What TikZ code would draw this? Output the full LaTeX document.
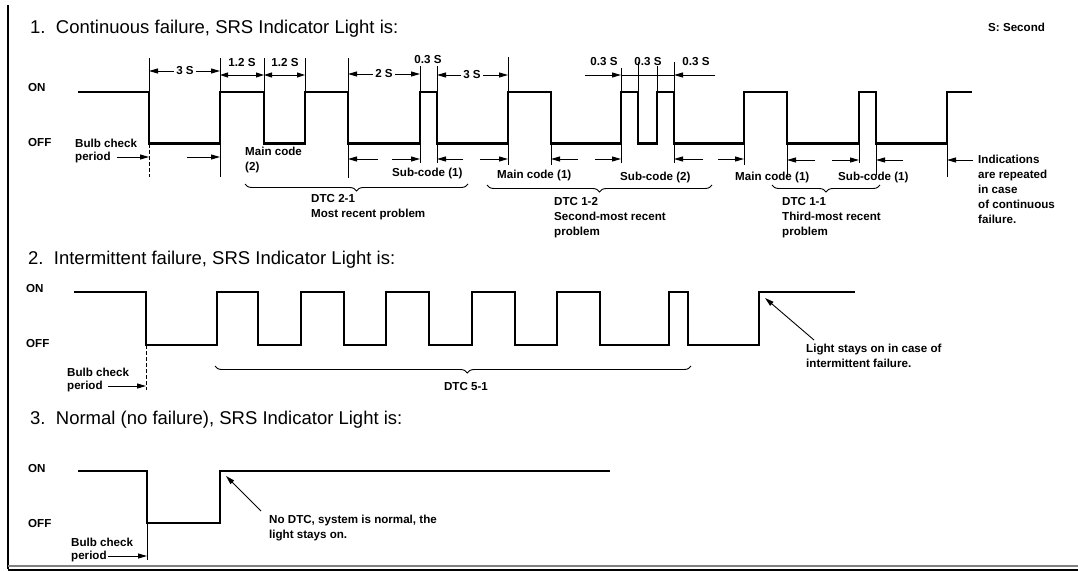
\documentclass[tikz,border=0pt]{standalone}
\usepackage{fontspec}
\setmainfont{Liberation Sans}
\usetikzlibrary{arrows.meta,decorations.pathreplacing}
\begin{document}
\begin{tikzpicture}[x=1pt,y=-1pt,
  wave/.style={line width=2.8pt, line join=miter},
  tk/.style={line width=0.9pt},
  dashtk/.style={line width=0.9pt, dash pattern=on 4pt off 2pt},
  dimar/.style={line width=0.9pt, {Triangle[length=8pt,width=5pt]}-{Triangle[length=8pt,width=5pt]}},
  arr/.style={line width=0.9pt, -{Triangle[length=9pt,width=5pt]}},
  ttl/.style={font=\fontsize{18.5}{22}\selectfont, anchor=west, inner sep=0pt},
  lbl/.style={font=\fontsize{11.6}{15}\selectfont\bfseries, anchor=west, inner sep=0pt, align=left},
  dl/.style={font=\fontsize{11.6}{15}\selectfont\bfseries, fill=white, inner sep=2pt},
  brc/.style={decorate, decoration={brace, mirror, amplitude=7pt}, line width=0.9pt},
]
\useasboundingbox (0,0) rectangle (1078,570);
% frame
\draw[line width=2.8pt] (8,5) -- (8,569);
\draw[line width=1.5pt, gray] (8,566) -- (1078,566);
\draw[line width=2pt] (8,569.5) -- (1078,569.5);

% ---------------- Section 1
\node[ttl] (t1) at (30,29) {1.\ \ Continuous failure, SRS Indicator Light is:};
\node[lbl] (sec) at (988,27) {S: Second};
\node[lbl] (on1) at (28,88) {ON};
\node[lbl] (off1) at (28,143) {OFF};
\draw[wave] (78,92) -- (149,92) -- (149,143.5) -- (220,143.5) -- (220,92) -- (264,92) -- (264,143.5)
  -- (305,143.5) -- (305,92) -- (348,92) -- (348,143.5) -- (420,143.5) -- (420,92) -- (437,92)
  -- (437,143.5) -- (508,143.5) -- (508,92) -- (551,92) -- (551,143.5) -- (621,143.5) -- (621,92)
  -- (638,92) -- (638,143.5) -- (657,143.5) -- (657,92) -- (674,92) -- (674,143.5) -- (744,143.5)
  -- (744,92) -- (787,92) -- (787,143.5) -- (859,143.5) -- (859,92) -- (876,92) -- (876,143.5)
  -- (947,143.5) -- (947,92) -- (972,92);
% ticks above
\foreach \x/\t in {149/58,220/58,264/58,305/58,348/58,420/66,437/66,508/57,621/68,638/62,657/66,674/62}
  \draw[tk] (\x,\t) -- (\x,92);
% ticks below
\draw[dashtk] (149,143.5) -- (149,177);
\foreach \x/\b in {220/177,348/178,420/163,437/163,508/165,551/165,621/163,674/163,744/165,787/177,859/163,876/175,947/177}
  \draw[tk] (\x,143.5) -- (\x,\b);
% dimensions
\node[dl] (d1) at (185,71) {3 S};
\draw[arr] (d1.west) -- (149,71); \draw[arr] (d1.east) -- (220,71);
\draw[dimar] (220,75) -- (264,75);
\draw[dimar] (264,75) -- (305,75);
\node[lbl, anchor=center] (d2a) at (242,63) {1.2 S};
\node[lbl, anchor=center] (d2b) at (285,63) {1.2 S};
\node[dl] (d3) at (384,74) {2 S};
\draw[arr] (d3.west) -- (348,74); \draw[arr] (d3.east) -- (420,74);
\node[lbl, anchor=center] (d4) at (428,60) {0.3 S};
\node[dl] (d5) at (472,75) {3 S};
\draw[arr] (d5.west) -- (437,75); \draw[arr] (d5.east) -- (508,75);
\node[lbl, anchor=center] (d6) at (604,62) {0.3 S};
\node[lbl, anchor=center] (d7) at (648,62) {0.3 S};
\node[lbl, anchor=center] (d8) at (696,62) {0.3 S};
\draw[arr] (585,75) -- (621,75);
\draw[tk] (621,75) -- (674,75);
\draw[arr] (715,75) -- (674,75);
% arrows under
\node[lbl] (bc1) at (75,143) {Bulb check};
\node[lbl] (bp1) at (75,157) {period};
\draw[arr] (117,157) -- (149,157);
\draw[arr] (187,157) -- (220,157);
\foreach \a/\b in {378/348,392/420,463/437,480/508,578/551,595/621,703/674,718/744}
  \draw[arr] (\a,159) -- (\b,159);
\foreach \a/\b in {815/787,832/859,903/876,973/947}
  \draw[arr] (\a,160) -- (\b,160);
\node[lbl, anchor=north west] (mc2) at (245,147) {Main code\\(2)};
\node[lbl] (sc1) at (392,173) {Sub-code (1)};
\node[lbl] (mc1) at (497,175) {Main code (1)};
\node[lbl] (sc2) at (620,177) {Sub-code (2)};
\node[lbl] (mc1b) at (735,177) {Main code (1)};
\node[lbl] (sc1b) at (838,177) {Sub-code (1)};
\node[lbl, anchor=north west] (ind) at (978,155) {Indications\\are repeated\\in case\\of continuous\\failure.};
% braces
\draw[brc] (245,184) -- (468,184);
\draw[brc] (487,185) -- (712,185);
\draw[brc] (772,185) -- (880,185);
\node[lbl, anchor=north west] (dtc21) at (311,194) {DTC 2-1\\Most recent problem};
\node[lbl, anchor=north west] (dtc12) at (554,197) {DTC 1-2\\Second-most recent\\problem};
\node[lbl, anchor=north west] (dtc11) at (782,197) {DTC 1-1\\Third-most recent\\problem};

% ---------------- Section 2
\node[ttl] (t2) at (28,260) {2.\ \ Intermittent failure, SRS Indicator Light is:};
\node[lbl] (on2) at (26,289) {ON};
\node[lbl] (off2) at (26,344) {OFF};
\draw[wave] (74,292) -- (146,292) -- (146,345) -- (217,345) -- (217,292) -- (258,292) -- (258,345)
  -- (301,345) -- (301,292) -- (344,292) -- (344,345) -- (386,345) -- (386,292) -- (429,292)
  -- (429,345) -- (472,345) -- (472,292) -- (515,292) -- (515,345) -- (557,345) -- (557,292)
  -- (600,292) -- (600,345) -- (669,345) -- (669,292) -- (688,292) -- (688,345) -- (759,345)
  -- (759,292) -- (855,292);
\draw[dashtk] (146,345) -- (146,390);
\node[lbl] (bc2) at (67,372) {Bulb check};
\node[lbl] (bp2) at (67,386) {period};
\draw[arr] (108,386) -- (146,386);
\draw[decorate, decoration={brace, mirror, amplitude=7pt, aspect=0.53}, line width=0.9pt] (215,366) -- (691,366);
\node[lbl, anchor=center] (dtc51) at (466,387) {DTC 5-1};
\node[lbl, anchor=north west] (ls) at (806,344) {Light stays on in case of\\intermittent failure.};
\draw[arr] (814,340) -- (765,298);

% ---------------- Section 3
\node[ttl] (t3) at (30,420) {3.\ \ Normal (no failure), SRS Indicator Light is:};
\node[lbl] (on3) at (28,468) {ON};
\node[lbl] (off3) at (28,523) {OFF};
\draw[wave] (78,471) -- (147,471) -- (147,523) -- (220,523) -- (220,471) -- (610,471);
\draw[tk] (147,523) -- (147,560);
\node[lbl] (bc3) at (71,542) {Bulb check};
\node[lbl] (bp3) at (71,556) {period};
\draw[arr] (108,556) -- (147,556);
\node[lbl, anchor=north west] (nd) at (269,515) {No DTC, system is normal, the\\light stays on.};
\draw[arr] (261,511) -- (226,476);
\end{tikzpicture}
\end{document}
